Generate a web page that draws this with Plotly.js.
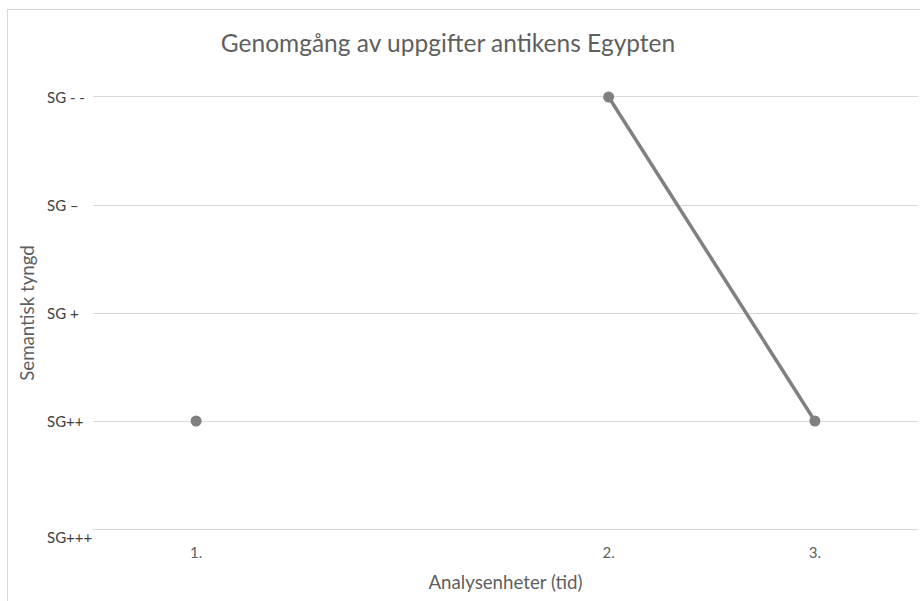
<!DOCTYPE html>
<html>
<head>
<meta charset="utf-8">
<script src="https://cdn.plot.ly/plotly-3.0.1.min.js"></script>
<style>
  html, body { margin: 0; padding: 0; background: #ffffff; }
  #chart { width: 920px; height: 601px; }
  #frame {
    position: absolute; left: 7px; top: 9px; width: 940px; height: 620px;
    border-left: 1px solid #d9d9d9; border-top: 1px solid #d9d9d9;
    pointer-events: none;
  }
</style>
</head>
<body>
<div id="chart"></div>
<div id="frame"></div>
<script>
// Analysis units along the time axis; the blank slot leaves a gap in the line.
const units = ["1.", "", "2.", "3."];
// Semantic gravity level of each unit (null = no observation).
const levels = [2, null, 5, 2];
// Level names, from strongest (1) to weakest (5).
const levelLabels = ["SG+++", "SG++", "SG +", "SG \u2013", "SG - -"];

const chartTitle = "Genomgång av uppgifter antikens Egypten";
const xTitle = "Analysenheter (tid)";
const yTitle = "Semantisk tyngd";

const textColor = "#5f5f5f";
const labelColor = "#404040";
const lineColor = "#808080";
const gridColor = "#d9d9d9";
const fontFamily = "Lato, 'Open Sans', sans-serif";

const xPos = units.map((u, i) => i + 1);
const levelVals = levelLabels.map((l, i) => i + 1);

const trace = {
  type: "scatter",
  mode: "lines+markers",
  x: xPos,
  y: levels,
  connectgaps: false,
  cliponaxis: false,
  line: { color: lineColor, width: 3.5 },
  marker: { color: lineColor, size: 11 },
  hoverinfo: "skip"
};

// Level names are drawn left-aligned beside the plot.
const levelAnnotations = levelLabels.map((label, i) => ({
  xref: "paper", yref: "y",
  x: 0, y: levelVals[i],
  xshift: -48,
  yshift: i === 0 ? -8 : 0,
  xanchor: "left", yanchor: "middle",
  text: label,
  showarrow: false,
  font: { family: fontFamily, size: 15, color: labelColor }
}));

const tickIdx = units.map((u, i) => i).filter(i => units[i] !== "");

const layout = {
  width: 920,
  height: 601,
  margin: { l: 93, r: 2, t: 97, b: 72 },
  paper_bgcolor: "#ffffff",
  plot_bgcolor: "#ffffff",
  showlegend: false,
  font: { family: fontFamily, color: textColor },
  title: {
    text: chartTitle,
    font: { family: fontFamily, size: 24.5, color: textColor },
    xref: "container", x: 448 / 920, xanchor: "center",
    yref: "container", y: 1 - 43 / 601, yanchor: "middle"
  },
  xaxis: {
    range: [0.5, 4.5],
    tickmode: "array",
    tickvals: tickIdx.map(i => xPos[i]),
    ticktext: tickIdx.map(i => units[i]),
    showgrid: false,
    zeroline: false,
    showline: true,
    mirror: true,            // top edge doubles as the highest gridline
    layer: "below traces",
    linecolor: gridColor,
    linewidth: 1,
    ticks: "",
    ticklabelstandoff: 10,
    tickfont: { family: fontFamily, size: 15, color: textColor },
    title: {
      text: xTitle,
      font: { family: fontFamily, size: 18.7, color: textColor },
      standoff: 15
    },
    automargin: false,
    fixedrange: true
  },
  yaxis: {
    range: [1, 5],
    tickmode: "array",
    tickvals: levelVals,
    showticklabels: false,
    showgrid: true,
    gridcolor: gridColor,
    gridwidth: 1,
    zeroline: false,
    showline: false,
    layer: "below traces",
    ticks: "",
    title: {
      text: yTitle,
      font: { family: fontFamily, size: 18.7, color: textColor },
      standoff: 52
    },
    automargin: false,
    fixedrange: true
  },
  annotations: levelAnnotations
};

Plotly.newPlot("chart", [trace], layout, { displayModeBar: false, staticPlot: true });
</script>
</body>
</html>
